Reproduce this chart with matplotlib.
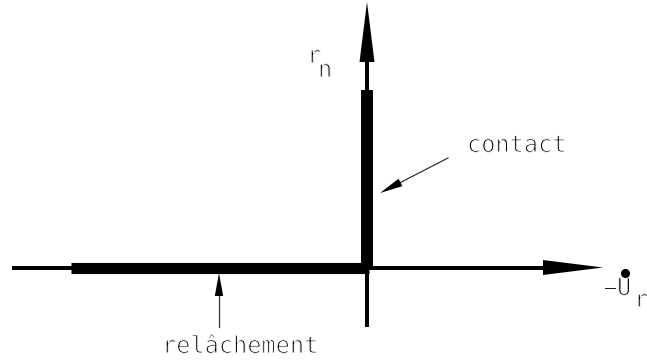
import matplotlib
matplotlib.use("Agg")
import matplotlib.pyplot as plt
import matplotlib.patheffects as pe

# Unilateral contact law (Signorini graph): r_n versus -U_r dot
# units are screen pixels measured from the origin of the graph
horiz_axis = [-355, 236]      # x extent of the -U_r axis (tip included)
vert_axis = [-59.5, 265.5]    # y extent of the r_n axis (tip included)
head_len, head_half = 60, 7.5

contact_branch = [0, 177.5]   # r_n >= 0 with -U_r = 0
release_branch = [-296, 2]    # -U_r <= 0 with r_n = 0

contact_arrow = [(81, 109.5), (13, 74.5)]
release_arrow = [(-148, -59.5), (-148, -5.5)]

labels = {
    "contact": (100, 115.5),
    "relâchement": (-205, -85.5),
}

font = dict(family="DejaVu Sans Mono", fontsize=17, color="black")
thin = [pe.Normal(), pe.Stroke(linewidth=0.8, foreground="white")]


def head(ax, tip, base, half):
    # filled triangular arrowhead from base centre to tip
    dx, dy = tip[0] - base[0], tip[1] - base[1]
    n = (dx ** 2 + dy ** 2) ** 0.5
    px, py = -dy / n * half, dx / n * half
    ax.fill([tip[0], base[0] + px, base[0] - px],
            [tip[1], base[1] + py, base[1] - py],
            color="black", lw=0, zorder=4)


fig = plt.figure(figsize=(6.47, 3.6), dpi=100)
ax = fig.add_axes([0, 0, 1, 1])
ax.set_xlim(-367, 280)
ax.set_ylim(-92.5, 267.5)
ax.axis("off")

# axes of the graph
ax.plot([horiz_axis[0], horiz_axis[1] - head_len], [0, 0],
        color="black", lw=2.9, solid_capstyle="butt", zorder=2)
head(ax, (horiz_axis[1], 0), (horiz_axis[1] - head_len, 0), head_half)
ax.plot([0, 0], [vert_axis[0], vert_axis[1] - head_len],
        color="black", lw=2.9, solid_capstyle="butt", zorder=2)
head(ax, (0, vert_axis[1]), (0, vert_axis[1] - head_len), head_half)

# the two branches of the law
ax.plot([0, 0], contact_branch, color="black", lw=8.6,
        solid_capstyle="butt", zorder=3)
ax.plot(release_branch, [0, 0], color="black", lw=8.0,
        solid_capstyle="butt", zorder=3)

# pointer arrows
for (x0, y0), (x1, y1) in [contact_arrow, release_arrow]:
    dx, dy = x1 - x0, y1 - y0
    n = (dx ** 2 + dy ** 2) ** 0.5
    hl = 23
    bx, by = x1 - dx / n * hl, y1 - dy / n * hl
    ax.plot([x0, bx], [y0, by], color="#333333", lw=0.9, zorder=3)
    head(ax, (x1, y1), (bx, by), 4.2)

for txt, (x, y) in labels.items():
    ax.text(x, y, txt, ha="left", va="baseline", path_effects=thin, **font)

# axis names
ax.text(-60, 204.5, "r", ha="left", va="baseline", path_effects=thin, **font)
ax.text(-49, 190.5, "n", ha="left", va="baseline", path_effects=thin, **font)
ax.text(236, -27.5, "\u2212", ha="left", va="baseline", path_effects=thin, **font)
ax.text(250, -27.5, "U", ha="left", va="baseline", path_effects=thin, **font)
ax.plot([258], [-5.5], "o", color="black", ms=5.5, zorder=4)
ax.text(267, -39.5, "r", ha="left", va="baseline", path_effects=thin, **font)

fig.savefig("out.png", dpi=100)
